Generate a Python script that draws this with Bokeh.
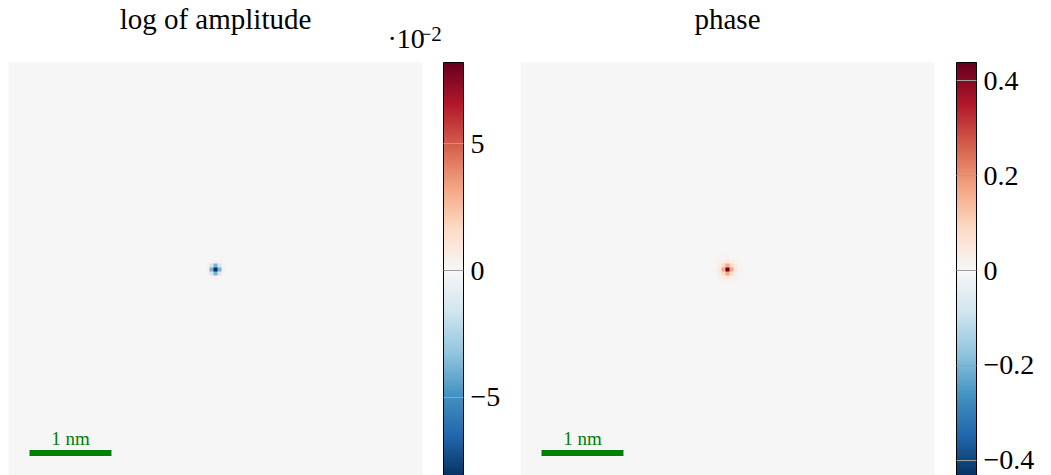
import numpy as np
from bokeh.plotting import figure
from bokeh.layouts import row
from bokeh.models import LinearColorMapper, ColorBar, FixedTicker, Range1d
from bokeh.core.properties import value
from bokeh.embed import file_html
from bokeh.resources import INLINE

# ---------------- data ----------------
titles = ["log of amplitude", "phase"]
grid_n = 103                      # pixels per side
extent_nm = 5.05                  # field of view in nm
scalebar_nm = 1.0
scalebar_label = "1 nm"
amp_multiplier = "\u00b710"
amp_exponent = "\u22122"

# log-amplitude spot around the centre pixel (values in units of 1e-2)
amp_patch_e2 = [
    [0.0, 0.2, 0.4, 0.2, 0.0],
    [0.2, -1.5, -3.8, -1.5, 0.2],
    [0.4, -3.8, -8.2, -3.8, 0.4],
    [0.2, -1.5, -3.8, -1.5, 0.2],
    [0.0, 0.2, 0.4, 0.2, 0.0],
]
# phase spot around the centre pixel (rad)
phase_patch = [
    [0.00, 0.01, 0.01, 0.02, 0.01, 0.01, 0.00],
    [0.01, 0.02, 0.03, 0.04, 0.03, 0.02, 0.01],
    [0.01, 0.03, 0.09, 0.17, 0.09, 0.03, 0.01],
    [0.02, 0.04, 0.17, 0.438, 0.17, 0.04, 0.02],
    [0.01, 0.03, 0.09, 0.17, 0.09, 0.03, 0.01],
    [0.01, 0.02, 0.03, 0.04, 0.03, 0.02, 0.01],
    [0.00, 0.01, 0.01, 0.02, 0.01, 0.01, 0.00],
]
amp_center = (51, 51)     # (row from bottom, col)
phase_center = (51, 51)

amp_limit = 0.082
phase_limit = 0.438
amp_ticks = [-0.05, 0.0, 0.05]
amp_tick_labels = ["\u22125", "0", "5"]
phase_ticks = [-0.4, -0.2, 0.0, 0.2, 0.4]
phase_tick_labels = ["\u22120.4", "\u22120.2", "0", "0.2", "0.4"]

rdbu = ["#053061", "#2166ac", "#4393c3", "#92c5de", "#d1e5f0", "#f7f7f7",
        "#fddbc7", "#f4a582", "#d6604d", "#b2182b", "#67001f"]

# ---------------- helpers ----------------
def build(patch, center, scale=1.0):
    arr = np.zeros((grid_n, grid_n))
    p = np.array(patch, dtype=float) * scale
    h = p.shape[0] // 2
    r, c = center
    arr[r - h:r + h + 1, c - h:c + h + 1] = p
    return arr

def interp_palette(cols, n=256):
    rgb = np.array([[int(c[i:i + 2], 16) for i in (1, 3, 5)] for c in cols], float)
    pos = np.linspace(0, 1, len(cols))
    t = np.linspace(0, 1, n)
    out = np.stack([np.interp(t, pos, rgb[:, k]) for k in range(3)], axis=1)
    return ["#%02x%02x%02x" % tuple(int(round(v)) for v in c) for c in out]

palette = interp_palette(rdbu)
amp_img = build(amp_patch_e2, amp_center, 1e-2)
phase_img = build(phase_patch, phase_center)

FONT = "Liberation Serif"
H = 475
IMG_PX = 414.0
S = extent_nm / IMG_PX          # nm per screen pixel
IMG_TOP = 62                    # page y of image top
IMG_BOTTOM = IMG_TOP + IMG_PX   # page y of image bottom (slightly below window)
GREEN = "#008000"

def ny(page_y):
    """page y (px from top) -> data y in nm (image bottom = 0)."""
    return (IMG_BOTTOM - page_y) * S

def make_panel(title, img, limit, ticks, labels, width, img_left, cb_left):
    p = figure(width=width, height=H, output_backend="svg", toolbar_location=None,
               x_range=Range1d(-img_left * S, (width - img_left) * S),
               y_range=Range1d(ny(H), ny(0)),
               min_border=0, x_axis_location=None, y_axis_location=None)
    p.grid.visible = False
    p.outline_line_color = None
    p.background_fill_color = "white"
    p.border_fill_color = "white"

    mapper = LinearColorMapper(palette=palette, low=-limit, high=limit)
    p.image(image=[img], x=0, y=0, dw=extent_nm, dh=extent_nm, color_mapper=mapper)

    # title
    p.text(x=[extent_nm / 2], y=[ny(34.5)], text=[title], text_color="black",
           text_font=value(FONT), text_font_size="29px",
           text_align="center", text_baseline="bottom")

    # scale bar
    x0 = 21 * S
    yb = ny(452.5)
    p.segment(x0=[x0], y0=[yb], x1=[x0 + scalebar_nm], y1=[yb],
              line_color=GREEN, line_width=6)
    p.text(x=[x0 + scalebar_nm / 2], y=[ny(448.0)], text=[scalebar_label],
           text_color=GREEN, text_font=value(FONT), text_font_size="19px",
           text_align="center", text_baseline="bottom")

    cb = ColorBar(color_mapper=mapper, location=(cb_left, H - 478), orientation="vertical",
                  width=20, height=416, padding=0,
                  ticker=FixedTicker(ticks=ticks),
                  major_label_overrides={t: l for t, l in zip(ticks, labels)},
                  major_label_text_font=FONT, major_label_text_font_size="28px",
                  major_label_text_color="black",
                  label_standoff=7,
                  major_tick_in=20, major_tick_out=0, major_tick_line_color="#a0a0a0",
                  minor_tick_line_color=None,
                  bar_line_color="black", bar_line_width=1,
                  border_line_color=None, background_fill_color=None)
    p.add_layout(cb, "center")
    return p

pA = make_panel(titles[0], amp_img, amp_limit, amp_ticks, amp_tick_labels, 520, 8, 443)
pB = make_panel(titles[1], phase_img, phase_limit, phase_ticks, phase_tick_labels, 531, 0, 436)

# colour-bar multiplier ·10^-2 above the left colour bar
pA.text(x=[(387 - 8) * S], y=[ny(53.5)], text=[amp_multiplier], text_color="black",
        text_font=value(FONT), text_font_size="28px", text_align="left", text_baseline="bottom")
pA.text(x=[(419 - 8) * S], y=[ny(40.5)], text=[amp_exponent], text_color="black",
        text_font=value(FONT), text_font_size="21px", text_align="left", text_baseline="bottom")

layout = row(pA, pB, spacing=0)
open("out.html", "w").write(file_html(layout, INLINE))
